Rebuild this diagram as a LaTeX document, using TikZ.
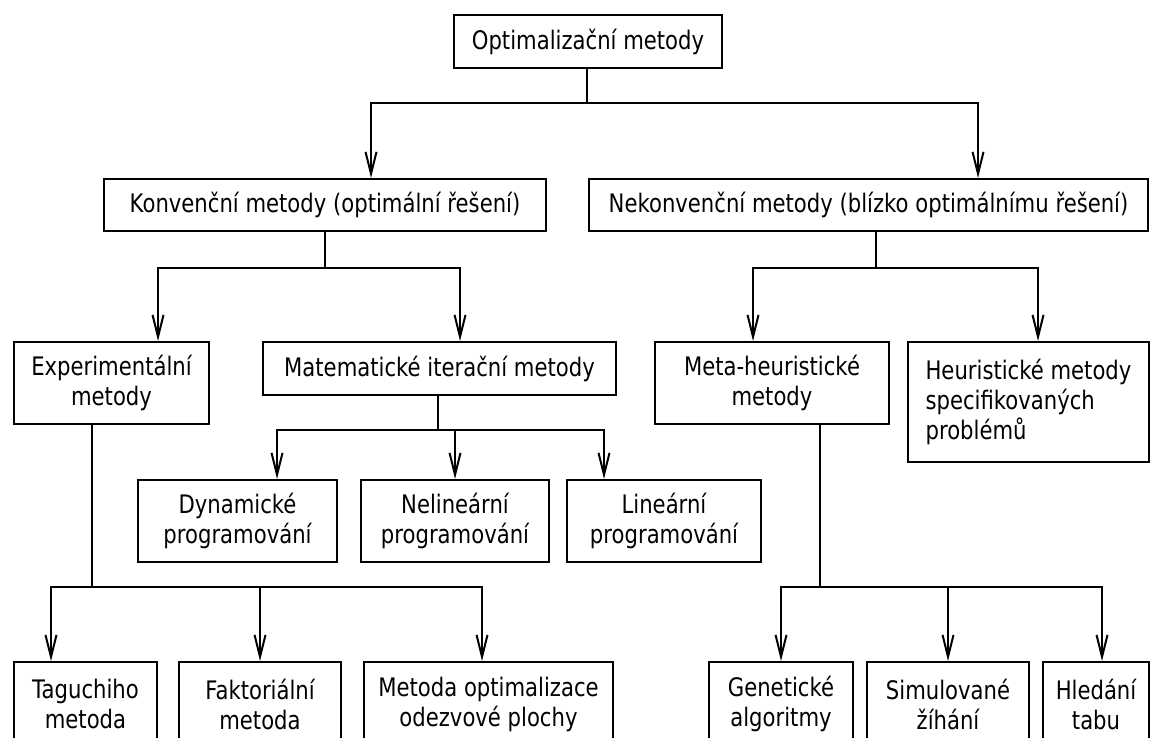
\documentclass[tikz,border=0pt]{standalone}
\usepackage{fontspec}
\setmainfont{DejaVu Sans}[FakeStretch=0.83]
\usetikzlibrary{arrows.meta,positioning}

\begin{document}
\begin{tikzpicture}[x=1pt, y=-1pt,
  method/.style={draw, line width=2pt, anchor=north west, align=center, inner sep=0pt, font=\fontsize{25.5}{30}\selectfont},
  arrow/.style={-{Straight Barb[length=22pt,width=11pt]}, line width=2pt},
  link/.style={line width=2pt}
]
  \clip (0,0) rectangle (1151,738);
  % top level
  \node[method, minimum width=268pt, minimum height=53pt] (root) at (453,14) {Optimalizační metody};
  \node[method, minimum width=442pt, minimum height=52pt] (kon) at (103,178) {Konvenční metody (optimální řešení)};
  \node[method, minimum width=559pt, minimum height=52pt] (nek) at (588,178) {Nekonvenční metody (blízko optimálnímu řešení)};
  % second level
  \node[method, minimum width=195pt, minimum height=82pt] (exp) at (13,341) {Experimentální\\metody};
  \node[method, minimum width=353pt, minimum height=53pt] (mat) at (262,341) {Matematické iterační metody};
  \node[method, minimum width=234pt, minimum height=82pt] (meta) at (654,341) {Meta-heuristické\\metody};
  \node[method, minimum width=241pt, minimum height=120pt, align=left] (heur) at (907,341) {Heuristické metody\\specifikovaných\\problémů};
  % programming
  \node[method, minimum width=199pt, minimum height=82pt] (dyn) at (137,479) {Dynamické\\programování};
  \node[method, minimum width=188pt, minimum height=82pt] (nel) at (360,479) {Nelineární\\programování};
  \node[method, minimum width=194pt, minimum height=82pt] (lin) at (566,479) {Lineární\\programování};
  % bottom row (cut by the page edge)
  \node[method, minimum width=143pt, minimum height=84pt] (tag) at (13,661) {Taguchiho\\metoda};
  \node[method, minimum width=162pt, minimum height=84pt] (fak) at (178,661) {Faktoriální\\metoda};
  \node[method, minimum width=249pt, minimum height=84pt] (resp) at (363,661) {Metoda optimalizace\\odezvové plochy};
  \node[method, minimum width=144pt, minimum height=84pt] (gen) at (708,661) {Genetické\\algoritmy};
  \node[method, minimum width=162pt, minimum height=84pt] (sim) at (866,661) {Simulované\\žíhání};
  \node[method, minimum width=106pt, minimum height=84pt] (tabu) at (1042,661) {Hledání\\tabu};

  \coordinate (j0) at (587,103);
  \coordinate (j1) at (325,268);
  \coordinate (j2) at (876,268);
  \coordinate (j3) at (438,430);
  \coordinate (j4) at (92,587);
  \coordinate (j5) at (820,587);

  \draw[link] (root.south -| j0) -- (j0);
  \draw[arrow] (j0) -| ([xshift=46pt]kon.north);
  \draw[arrow] (j0) -| ([xshift=109.5pt]nek.north);

  \draw[link] (kon.south -| j1) -- (j1);
  \draw[arrow] (j1) -| ([xshift=46.5pt]exp.north);
  \draw[arrow] (j1) -| ([xshift=20.5pt]mat.north);

  \draw[link] (nek.south -| j2) -- (j2);
  \draw[arrow] (j2) -| ([xshift=-19pt]meta.north);
  \draw[arrow] (j2) -| ([xshift=9.5pt]heur.north);

  \draw[link] (mat.south -| j3) -- (j3);
  \draw[arrow] (j3) -| ([xshift=39.5pt]dyn.north);
  \draw[arrow] (j3) -| (nel.north);
  \draw[arrow] (j3) -| ([xshift=-60pt]lin.north);

  \draw[link] (exp.south -| j4) -- (j4);
  \draw[arrow] (j4) -| ([xshift=-34.5pt]tag.north);
  \draw[arrow] (j4) -| (fak.north);
  \draw[arrow] (j4) -| ([xshift=-6.5pt]resp.north);

  \draw[link] (meta.south -| j5) -- (j5);
  \draw[arrow] (j5) -| (gen.north);
  \draw[arrow] (j5) -| (sim.north);
  \draw[arrow] (j5) -| ([xshift=6pt]tabu.north);
\end{tikzpicture}
\end{document}
